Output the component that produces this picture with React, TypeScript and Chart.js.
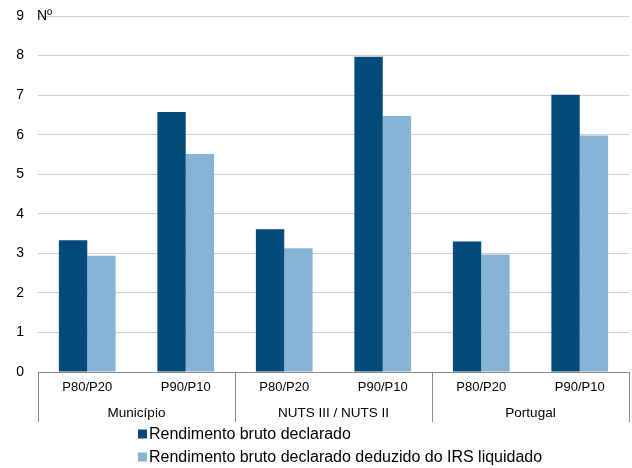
import React, { useEffect, useRef } from "react";
import { Chart, registerables } from "chart.js";

Chart.register(...registerables);

const categories = ["P80/P20", "P90/P10", "P80/P20", "P90/P10", "P80/P20", "P90/P10"];
const groups = ["Município", "NUTS III / NUTS II", "Portugal"];
const seriesNames = [
  "Rendimento bruto declarado",
  "Rendimento bruto declarado deduzido do IRS liquidado",
];
const brutoValues = [3.33, 6.57, 3.61, 7.97, 3.3, 7.01];
const liquidoValues = [2.94, 5.51, 3.13, 6.47, 2.97, 5.98];
const yTicks = [0, 1, 2, 3, 4, 5, 6, 7, 8, 9];
const yUnit = "Nº";

const FONT = '"Liberation Sans", Arial, sans-serif';
const DARK = "#044a7b";
const LIGHT = "#87b4d4";

const decorPlugin = {
  id: "decor",
  afterDraw(chart: any) {
    const { ctx, chartArea } = chart;
    const { left, right, bottom, top } = chartArea;
    ctx.save();
    // group separators
    ctx.strokeStyle = "#8a8a8a";
    ctx.lineWidth = 1;
    const gw = (right - left) / groups.length;
    for (let i = 0; i <= groups.length; i++) {
      const x = Math.round(left + i * gw) + 0.5;
      ctx.beginPath();
      ctx.moveTo(x, bottom);
      ctx.lineTo(x, bottom + 50);
      ctx.stroke();
    }
    // group labels
    ctx.fillStyle = "#000";
    ctx.font = `13.5px ${FONT}`;
    ctx.textAlign = "center";
    ctx.textBaseline = "middle";
    groups.forEach((g, i) => {
      ctx.fillText(g, left + (i + 0.5) * gw, bottom + 41);
    });
    // unit label
    ctx.font = `14px ${FONT}`;
    ctx.textAlign = "left";
    ctx.fillText(yUnit, 37, top);
    // legend
    ctx.font = `16px ${FONT}`;
    const ds = chart.data.datasets;
    const rows = [434, 457];
    ds.forEach((d: any, i: number) => {
      ctx.fillStyle = d.backgroundColor;
      ctx.fillRect(138, rows[i] - 4.5, 9, 9);
      ctx.fillStyle = "#000";
      ctx.fillText(d.label, 149, rows[i] + 0.5);
    });
    ctx.restore();
  },
};

export default function App() {
  const ref = useRef<HTMLCanvasElement | null>(null);
  useEffect(() => {
    if (!ref.current) return;
    const chart = new Chart(ref.current, {
      type: "bar",
      data: {
        labels: categories,
        datasets: [
          {
            label: seriesNames[0],
            data: brutoValues,
            backgroundColor: DARK,
            barPercentage: 1,
            categoryPercentage: 0.576,
          },
          {
            label: seriesNames[1],
            data: liquidoValues,
            backgroundColor: LIGHT,
            barPercentage: 1,
            categoryPercentage: 0.576,
          },
        ],
      },
      options: {
        responsive: false,
        animation: false,
        layout: { padding: { top: 16, right: 3, left: 0, bottom: 0 } },
        plugins: { legend: { display: false }, tooltip: { enabled: false } },
        scales: {
          x: {
            grid: { display: false, drawTicks: false },
            border: { display: true, color: "#8a8a8a", width: 1 },
            ticks: {
              color: "#000",
              font: { family: FONT, size: 13 },
              padding: 8,
              maxRotation: 0,
              autoSkip: false,
            },
            afterFit: (s: any) => {
              s.height = 96;
              s.paddingLeft = 0;
              s.paddingRight = 0;
            },
          },
          y: {
            min: 0,
            max: 9,
            grid: { color: "#cfcfcf", lineWidth: 1, drawTicks: false },
            border: { display: false },
            afterBuildTicks: (s: any) => {
              s.ticks = yTicks.map((v) => ({ value: v }));
            },
            ticks: {
              color: "#000",
              font: { family: FONT, size: 14 },
              padding: 14,
            },
            afterFit: (s: any) => {
              s.width = 38;
              s.paddingTop = 0;
              s.paddingBottom = 0;
            },
          },
        },
      },
      plugins: [decorPlugin],
    });
    return () => chart.destroy();
  }, []);
  return (
    <div style={{ position: "fixed", left: 0, top: 0, width: 632, height: 468, background: "#fff" }}>
      <canvas ref={ref} width={632} height={468} />
    </div>
  );
}
